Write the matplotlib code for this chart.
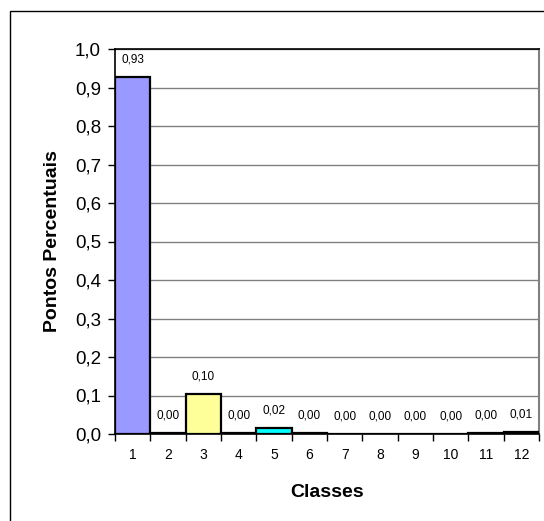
import matplotlib.pyplot as plt
import numpy as np
from matplotlib.patches import Rectangle
from matplotlib.ticker import FixedLocator, FuncFormatter

plt.rcParams['font.family'] = ['Liberation Sans', 'DejaVu Sans']

classes = ['1', '2', '3', '4', '5', '6', '7', '8', '9', '10', '11', '12']
values = [0.928, 0.003, 0.105, 0.003, 0.016, 0.002, 0.0, 0.0, 0.0, 0.0, 0.002, 0.006]
bar_colors = ['#9999FF', '#993366', '#FFFF99', '#CCFFFF', '#00FFFF', '#FF8080',
              '#0066CC', '#CCCCFF', '#000080', '#FF00FF', '#FFFF00', '#00FFFF']

W, H = 544, 521
fig = plt.figure(figsize=(W / 100, H / 100), dpi=100)
fig.patch.set_facecolor('white')

# outer chart frame (only left/top visible in picture)
fig.add_artist(Rectangle((10 / W, -0.05), 1.1, 1.05 - 11 / H, transform=fig.transFigure,
                         fill=False, edgecolor='black', linewidth=1.0))

ax = fig.add_axes([115 / W, 87 / H, 424 / W, 385 / H])
x = np.arange(len(classes))
ax.bar(x, values, width=1.0, color=bar_colors, edgecolor='black', linewidth=1.6, zorder=3)

for xi, v in zip(x, values):
    ax.annotate(f'{v:.2f}'.replace('.', ','), (xi, v), xytext=(0, 12.5),
                textcoords='offset points', ha='center', va='center', fontsize=8.5)

ax.set_xlim(-0.5, len(classes) - 0.5)
ax.set_ylim(0, 1.0)
ax.set_yticks(np.arange(0, 1.01, 0.1))
ax.yaxis.set_major_formatter(FuncFormatter(lambda v, p: f'{v:.1f}'.replace('.', ',')))
ax.yaxis.grid(True, color='#808080', linewidth=1.0, zorder=0)
ax.set_xticks(x)
ax.set_xticklabels(classes, fontsize=10)
ax.xaxis.set_minor_locator(FixedLocator(np.arange(-0.5, len(classes), 1.0)))
ax.tick_params(axis='x', which='major', length=0, pad=10)
ax.tick_params(axis='x', which='minor', length=5, width=1, direction='out')
ax.tick_params(axis='y', length=5, width=1, labelsize=13.5, pad=5)

for s in ['left', 'bottom', 'top']:
    ax.spines[s].set_color('black')
    ax.spines[s].set_linewidth(1.2)
ax.spines['right'].set_color('#808080')
ax.spines['right'].set_linewidth(1.5)

ax.set_xlabel('Classes', fontsize=14, fontweight='bold', labelpad=16)
ax.set_ylabel('Pontos Percentuais', fontsize=14, fontweight='bold', labelpad=10)

fig.savefig('out.png', dpi=100)
